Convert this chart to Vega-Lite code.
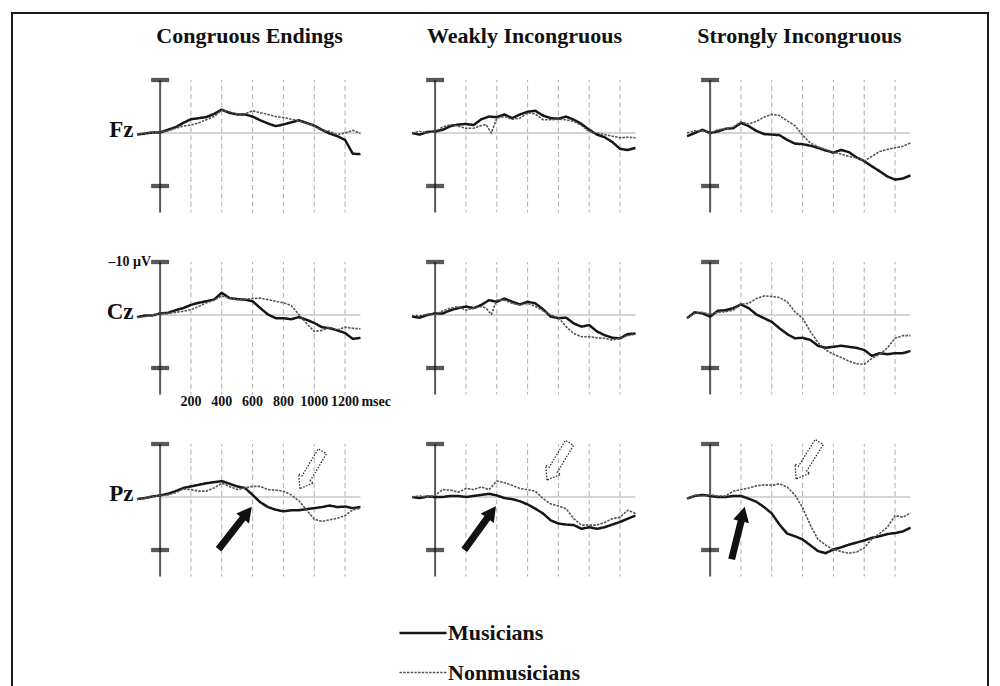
{
"$schema": "https://vega.github.io/schema/vega-lite/v6.json",
"width": 976,
"height": 690,
"autosize": "none",
"padding": {"left": 12, "top": 13, "right": 12, "bottom": 0},
"background": "white",
"config": {"view": {"stroke": "#1a1a1a", "strokeWidth": 2}, "font": "Liberation Serif"},
"datasets": {
"panels": [
{"cond":"C","elec":"Fz","ticks":[200,400,600,800,1000,1200]},
{"cond":"C","elec":"Cz","ticks":[200,400,600,800,1000,1200]},
{"cond":"C","elec":"Pz","ticks":[200,400,600,800,1000,1200]},
{"cond":"W","elec":"Fz","ticks":[200,400,600,800,1000,1200]},
{"cond":"W","elec":"Cz","ticks":[200,400,600,800,1000,1200]},
{"cond":"W","elec":"Pz","ticks":[200,400,600,800,1000,1200]},
{"cond":"S","elec":"Fz","ticks":[200,400,600,800,1000,1200]},
{"cond":"S","elec":"Cz","ticks":[200,400,600,800,1000,1200]},
{"cond":"S","elec":"Pz","ticks":[200,400,600,800,1000,1200]}
],
"arrows": [
{"cond":"C","elec":"Pz","kind":"solid","t":487,"uv":5.85,"dir":38},
{"cond":"C","elec":"Pz","kind":"hollow","t":980,"uv":-5.1,"dir":211},
{"cond":"W","elec":"Pz","kind":"solid","t":292,"uv":5.85,"dir":36},
{"cond":"W","elec":"Pz","kind":"hollow","t":799,"uv":-6.7,"dir":211},
{"cond":"S","elec":"Pz","kind":"solid","t":182,"uv":6.8,"dir":14},
{"cond":"S","elec":"Pz","kind":"hollow","t":633,"uv":-6.9,"dir":212}
],
"xlabels": [
{"cond":"C","elec":"Cz","t":200,"label":"200"},
{"cond":"C","elec":"Cz","t":400,"label":"400"},
{"cond":"C","elec":"Cz","t":600,"label":"600"},
{"cond":"C","elec":"Cz","t":800,"label":"800"},
{"cond":"C","elec":"Cz","t":1000,"label":"1000"},
{"cond":"C","elec":"Cz","t":1200,"label":"1200"}
],
"waves": [
{"cond":"C","elec":"Fz","grp":"Musicians","t":-150,"uv":0.3},
{"cond":"C","elec":"Fz","grp":"Musicians","t":-100,"uv":0.1},
{"cond":"C","elec":"Fz","grp":"Musicians","t":-50,"uv":-0.1},
{"cond":"C","elec":"Fz","grp":"Musicians","t":0,"uv":-0.1},
{"cond":"C","elec":"Fz","grp":"Musicians","t":50,"uv":-0.6},
{"cond":"C","elec":"Fz","grp":"Musicians","t":100,"uv":-1.1},
{"cond":"C","elec":"Fz","grp":"Musicians","t":150,"uv":-1.9},
{"cond":"C","elec":"Fz","grp":"Musicians","t":200,"uv":-2.6},
{"cond":"C","elec":"Fz","grp":"Musicians","t":250,"uv":-2.8},
{"cond":"C","elec":"Fz","grp":"Musicians","t":300,"uv":-3.0},
{"cond":"C","elec":"Fz","grp":"Musicians","t":350,"uv":-3.6},
{"cond":"C","elec":"Fz","grp":"Musicians","t":400,"uv":-4.4},
{"cond":"C","elec":"Fz","grp":"Musicians","t":450,"uv":-3.8},
{"cond":"C","elec":"Fz","grp":"Musicians","t":500,"uv":-3.5},
{"cond":"C","elec":"Fz","grp":"Musicians","t":550,"uv":-3.5},
{"cond":"C","elec":"Fz","grp":"Musicians","t":600,"uv":-3.1},
{"cond":"C","elec":"Fz","grp":"Musicians","t":650,"uv":-2.4},
{"cond":"C","elec":"Fz","grp":"Musicians","t":700,"uv":-1.8},
{"cond":"C","elec":"Fz","grp":"Musicians","t":750,"uv":-1.3},
{"cond":"C","elec":"Fz","grp":"Musicians","t":800,"uv":-1.6},
{"cond":"C","elec":"Fz","grp":"Musicians","t":850,"uv":-2.0},
{"cond":"C","elec":"Fz","grp":"Musicians","t":900,"uv":-2.4},
{"cond":"C","elec":"Fz","grp":"Musicians","t":950,"uv":-1.9},
{"cond":"C","elec":"Fz","grp":"Musicians","t":1000,"uv":-1.4},
{"cond":"C","elec":"Fz","grp":"Musicians","t":1050,"uv":-0.6},
{"cond":"C","elec":"Fz","grp":"Musicians","t":1100,"uv":0.1},
{"cond":"C","elec":"Fz","grp":"Musicians","t":1150,"uv":0.6},
{"cond":"C","elec":"Fz","grp":"Musicians","t":1200,"uv":1.3},
{"cond":"C","elec":"Fz","grp":"Musicians","t":1250,"uv":3.9},
{"cond":"C","elec":"Fz","grp":"Musicians","t":1300,"uv":4.0},
{"cond":"C","elec":"Fz","grp":"Nonmusicians","t":-150,"uv":0.3},
{"cond":"C","elec":"Fz","grp":"Nonmusicians","t":-100,"uv":0.0},
{"cond":"C","elec":"Fz","grp":"Nonmusicians","t":-50,"uv":-0.1},
{"cond":"C","elec":"Fz","grp":"Nonmusicians","t":0,"uv":-0.1},
{"cond":"C","elec":"Fz","grp":"Nonmusicians","t":50,"uv":-0.4},
{"cond":"C","elec":"Fz","grp":"Nonmusicians","t":100,"uv":-0.9},
{"cond":"C","elec":"Fz","grp":"Nonmusicians","t":150,"uv":-1.3},
{"cond":"C","elec":"Fz","grp":"Nonmusicians","t":200,"uv":-1.5},
{"cond":"C","elec":"Fz","grp":"Nonmusicians","t":250,"uv":-1.9},
{"cond":"C","elec":"Fz","grp":"Nonmusicians","t":300,"uv":-2.5},
{"cond":"C","elec":"Fz","grp":"Nonmusicians","t":350,"uv":-3.1},
{"cond":"C","elec":"Fz","grp":"Nonmusicians","t":400,"uv":-4.3},
{"cond":"C","elec":"Fz","grp":"Nonmusicians","t":450,"uv":-4.0},
{"cond":"C","elec":"Fz","grp":"Nonmusicians","t":500,"uv":-3.6},
{"cond":"C","elec":"Fz","grp":"Nonmusicians","t":550,"uv":-3.6},
{"cond":"C","elec":"Fz","grp":"Nonmusicians","t":600,"uv":-4.2},
{"cond":"C","elec":"Fz","grp":"Nonmusicians","t":650,"uv":-3.8},
{"cond":"C","elec":"Fz","grp":"Nonmusicians","t":700,"uv":-3.5},
{"cond":"C","elec":"Fz","grp":"Nonmusicians","t":750,"uv":-3.1},
{"cond":"C","elec":"Fz","grp":"Nonmusicians","t":800,"uv":-2.9},
{"cond":"C","elec":"Fz","grp":"Nonmusicians","t":850,"uv":-2.6},
{"cond":"C","elec":"Fz","grp":"Nonmusicians","t":900,"uv":-2.3},
{"cond":"C","elec":"Fz","grp":"Nonmusicians","t":950,"uv":-1.8},
{"cond":"C","elec":"Fz","grp":"Nonmusicians","t":1000,"uv":-1.3},
{"cond":"C","elec":"Fz","grp":"Nonmusicians","t":1050,"uv":-0.5},
{"cond":"C","elec":"Fz","grp":"Nonmusicians","t":1100,"uv":-0.3},
{"cond":"C","elec":"Fz","grp":"Nonmusicians","t":1150,"uv":0.3},
{"cond":"C","elec":"Fz","grp":"Nonmusicians","t":1200,"uv":0.0},
{"cond":"C","elec":"Fz","grp":"Nonmusicians","t":1250,"uv":-0.5},
{"cond":"C","elec":"Fz","grp":"Nonmusicians","t":1300,"uv":0.1},
{"cond":"W","elec":"Fz","grp":"Musicians","t":-150,"uv":0.0},
{"cond":"W","elec":"Fz","grp":"Musicians","t":-100,"uv":0.3},
{"cond":"W","elec":"Fz","grp":"Musicians","t":-50,"uv":-0.2},
{"cond":"W","elec":"Fz","grp":"Musicians","t":0,"uv":-0.3},
{"cond":"W","elec":"Fz","grp":"Musicians","t":50,"uv":-0.6},
{"cond":"W","elec":"Fz","grp":"Musicians","t":100,"uv":-1.3},
{"cond":"W","elec":"Fz","grp":"Musicians","t":150,"uv":-1.6},
{"cond":"W","elec":"Fz","grp":"Musicians","t":200,"uv":-1.7},
{"cond":"W","elec":"Fz","grp":"Musicians","t":250,"uv":-1.5},
{"cond":"W","elec":"Fz","grp":"Musicians","t":300,"uv":-2.6},
{"cond":"W","elec":"Fz","grp":"Musicians","t":350,"uv":-3.1},
{"cond":"W","elec":"Fz","grp":"Musicians","t":400,"uv":-3.0},
{"cond":"W","elec":"Fz","grp":"Musicians","t":450,"uv":-3.5},
{"cond":"W","elec":"Fz","grp":"Musicians","t":500,"uv":-2.8},
{"cond":"W","elec":"Fz","grp":"Musicians","t":550,"uv":-3.5},
{"cond":"W","elec":"Fz","grp":"Musicians","t":600,"uv":-4.0},
{"cond":"W","elec":"Fz","grp":"Musicians","t":650,"uv":-4.2},
{"cond":"W","elec":"Fz","grp":"Musicians","t":700,"uv":-3.3},
{"cond":"W","elec":"Fz","grp":"Musicians","t":750,"uv":-2.8},
{"cond":"W","elec":"Fz","grp":"Musicians","t":800,"uv":-2.7},
{"cond":"W","elec":"Fz","grp":"Musicians","t":850,"uv":-3.1},
{"cond":"W","elec":"Fz","grp":"Musicians","t":900,"uv":-2.5},
{"cond":"W","elec":"Fz","grp":"Musicians","t":950,"uv":-1.7},
{"cond":"W","elec":"Fz","grp":"Musicians","t":1000,"uv":-0.6},
{"cond":"W","elec":"Fz","grp":"Musicians","t":1050,"uv":0.3},
{"cond":"W","elec":"Fz","grp":"Musicians","t":1100,"uv":0.8},
{"cond":"W","elec":"Fz","grp":"Musicians","t":1150,"uv":1.7},
{"cond":"W","elec":"Fz","grp":"Musicians","t":1200,"uv":3.0},
{"cond":"W","elec":"Fz","grp":"Musicians","t":1250,"uv":3.2},
{"cond":"W","elec":"Fz","grp":"Musicians","t":1300,"uv":2.8},
{"cond":"W","elec":"Fz","grp":"Nonmusicians","t":-150,"uv":0.0},
{"cond":"W","elec":"Fz","grp":"Nonmusicians","t":-100,"uv":-0.3},
{"cond":"W","elec":"Fz","grp":"Nonmusicians","t":-50,"uv":0.0},
{"cond":"W","elec":"Fz","grp":"Nonmusicians","t":0,"uv":-0.3},
{"cond":"W","elec":"Fz","grp":"Nonmusicians","t":50,"uv":-1.1},
{"cond":"W","elec":"Fz","grp":"Nonmusicians","t":100,"uv":-1.6},
{"cond":"W","elec":"Fz","grp":"Nonmusicians","t":150,"uv":-1.3},
{"cond":"W","elec":"Fz","grp":"Nonmusicians","t":200,"uv":-0.9},
{"cond":"W","elec":"Fz","grp":"Nonmusicians","t":250,"uv":-0.9},
{"cond":"W","elec":"Fz","grp":"Nonmusicians","t":300,"uv":-1.4},
{"cond":"W","elec":"Fz","grp":"Nonmusicians","t":330,"uv":-1.6},
{"cond":"W","elec":"Fz","grp":"Nonmusicians","t":365,"uv":0.0},
{"cond":"W","elec":"Fz","grp":"Nonmusicians","t":400,"uv":-2.8},
{"cond":"W","elec":"Fz","grp":"Nonmusicians","t":450,"uv":-3.1},
{"cond":"W","elec":"Fz","grp":"Nonmusicians","t":500,"uv":-2.6},
{"cond":"W","elec":"Fz","grp":"Nonmusicians","t":550,"uv":-2.8},
{"cond":"W","elec":"Fz","grp":"Nonmusicians","t":600,"uv":-3.8},
{"cond":"W","elec":"Fz","grp":"Nonmusicians","t":650,"uv":-3.6},
{"cond":"W","elec":"Fz","grp":"Nonmusicians","t":700,"uv":-2.5},
{"cond":"W","elec":"Fz","grp":"Nonmusicians","t":750,"uv":-2.5},
{"cond":"W","elec":"Fz","grp":"Nonmusicians","t":800,"uv":-2.6},
{"cond":"W","elec":"Fz","grp":"Nonmusicians","t":850,"uv":-2.5},
{"cond":"W","elec":"Fz","grp":"Nonmusicians","t":900,"uv":-2.2},
{"cond":"W","elec":"Fz","grp":"Nonmusicians","t":950,"uv":-1.4},
{"cond":"W","elec":"Fz","grp":"Nonmusicians","t":1000,"uv":-0.3},
{"cond":"W","elec":"Fz","grp":"Nonmusicians","t":1050,"uv":0.0},
{"cond":"W","elec":"Fz","grp":"Nonmusicians","t":1100,"uv":0.3},
{"cond":"W","elec":"Fz","grp":"Nonmusicians","t":1150,"uv":0.6},
{"cond":"W","elec":"Fz","grp":"Nonmusicians","t":1200,"uv":0.9},
{"cond":"W","elec":"Fz","grp":"Nonmusicians","t":1250,"uv":0.8},
{"cond":"W","elec":"Fz","grp":"Nonmusicians","t":1300,"uv":0.9},
{"cond":"S","elec":"Fz","grp":"Musicians","t":-150,"uv":0.6},
{"cond":"S","elec":"Fz","grp":"Musicians","t":-100,"uv":0.0},
{"cond":"S","elec":"Fz","grp":"Musicians","t":-50,"uv":-0.6},
{"cond":"S","elec":"Fz","grp":"Musicians","t":0,"uv":0.0},
{"cond":"S","elec":"Fz","grp":"Musicians","t":50,"uv":-0.3},
{"cond":"S","elec":"Fz","grp":"Musicians","t":100,"uv":-0.8},
{"cond":"S","elec":"Fz","grp":"Musicians","t":150,"uv":-0.9},
{"cond":"S","elec":"Fz","grp":"Musicians","t":200,"uv":-1.9},
{"cond":"S","elec":"Fz","grp":"Musicians","t":250,"uv":-1.3},
{"cond":"S","elec":"Fz","grp":"Musicians","t":300,"uv":-0.4},
{"cond":"S","elec":"Fz","grp":"Musicians","t":350,"uv":0.2},
{"cond":"S","elec":"Fz","grp":"Musicians","t":400,"uv":0.3},
{"cond":"S","elec":"Fz","grp":"Musicians","t":450,"uv":0.4},
{"cond":"S","elec":"Fz","grp":"Musicians","t":500,"uv":1.3},
{"cond":"S","elec":"Fz","grp":"Musicians","t":550,"uv":2.0},
{"cond":"S","elec":"Fz","grp":"Musicians","t":600,"uv":2.1},
{"cond":"S","elec":"Fz","grp":"Musicians","t":650,"uv":2.4},
{"cond":"S","elec":"Fz","grp":"Musicians","t":700,"uv":2.8},
{"cond":"S","elec":"Fz","grp":"Musicians","t":750,"uv":3.3},
{"cond":"S","elec":"Fz","grp":"Musicians","t":800,"uv":3.7},
{"cond":"S","elec":"Fz","grp":"Musicians","t":850,"uv":3.2},
{"cond":"S","elec":"Fz","grp":"Musicians","t":900,"uv":3.6},
{"cond":"S","elec":"Fz","grp":"Musicians","t":950,"uv":4.6},
{"cond":"S","elec":"Fz","grp":"Musicians","t":1000,"uv":5.3},
{"cond":"S","elec":"Fz","grp":"Musicians","t":1050,"uv":6.3},
{"cond":"S","elec":"Fz","grp":"Musicians","t":1100,"uv":7.2},
{"cond":"S","elec":"Fz","grp":"Musicians","t":1150,"uv":8.2},
{"cond":"S","elec":"Fz","grp":"Musicians","t":1200,"uv":8.8},
{"cond":"S","elec":"Fz","grp":"Musicians","t":1250,"uv":8.6},
{"cond":"S","elec":"Fz","grp":"Musicians","t":1300,"uv":8.0},
{"cond":"S","elec":"Fz","grp":"Nonmusicians","t":-150,"uv":0.0},
{"cond":"S","elec":"Fz","grp":"Nonmusicians","t":-100,"uv":-0.4},
{"cond":"S","elec":"Fz","grp":"Nonmusicians","t":-50,"uv":-0.4},
{"cond":"S","elec":"Fz","grp":"Nonmusicians","t":0,"uv":0.0},
{"cond":"S","elec":"Fz","grp":"Nonmusicians","t":50,"uv":-0.6},
{"cond":"S","elec":"Fz","grp":"Nonmusicians","t":100,"uv":-0.8},
{"cond":"S","elec":"Fz","grp":"Nonmusicians","t":150,"uv":-1.1},
{"cond":"S","elec":"Fz","grp":"Nonmusicians","t":200,"uv":-2.1},
{"cond":"S","elec":"Fz","grp":"Nonmusicians","t":250,"uv":-1.7},
{"cond":"S","elec":"Fz","grp":"Nonmusicians","t":300,"uv":-2.2},
{"cond":"S","elec":"Fz","grp":"Nonmusicians","t":350,"uv":-3.0},
{"cond":"S","elec":"Fz","grp":"Nonmusicians","t":400,"uv":-3.5},
{"cond":"S","elec":"Fz","grp":"Nonmusicians","t":450,"uv":-3.3},
{"cond":"S","elec":"Fz","grp":"Nonmusicians","t":500,"uv":-2.3},
{"cond":"S","elec":"Fz","grp":"Nonmusicians","t":550,"uv":-1.4},
{"cond":"S","elec":"Fz","grp":"Nonmusicians","t":600,"uv":0.4},
{"cond":"S","elec":"Fz","grp":"Nonmusicians","t":650,"uv":1.9},
{"cond":"S","elec":"Fz","grp":"Nonmusicians","t":700,"uv":2.6},
{"cond":"S","elec":"Fz","grp":"Nonmusicians","t":750,"uv":3.1},
{"cond":"S","elec":"Fz","grp":"Nonmusicians","t":800,"uv":3.6},
{"cond":"S","elec":"Fz","grp":"Nonmusicians","t":850,"uv":4.0},
{"cond":"S","elec":"Fz","grp":"Nonmusicians","t":900,"uv":4.4},
{"cond":"S","elec":"Fz","grp":"Nonmusicians","t":950,"uv":4.7},
{"cond":"S","elec":"Fz","grp":"Nonmusicians","t":1000,"uv":5.3},
{"cond":"S","elec":"Fz","grp":"Nonmusicians","t":1050,"uv":4.4},
{"cond":"S","elec":"Fz","grp":"Nonmusicians","t":1100,"uv":3.5},
{"cond":"S","elec":"Fz","grp":"Nonmusicians","t":1150,"uv":3.1},
{"cond":"S","elec":"Fz","grp":"Nonmusicians","t":1200,"uv":2.8},
{"cond":"S","elec":"Fz","grp":"Nonmusicians","t":1250,"uv":2.5},
{"cond":"S","elec":"Fz","grp":"Nonmusicians","t":1300,"uv":1.9},
{"cond":"C","elec":"Cz","grp":"Musicians","t":-150,"uv":0.4},
{"cond":"C","elec":"Cz","grp":"Musicians","t":-100,"uv":0.1},
{"cond":"C","elec":"Cz","grp":"Musicians","t":-50,"uv":0.1},
{"cond":"C","elec":"Cz","grp":"Musicians","t":0,"uv":-0.3},
{"cond":"C","elec":"Cz","grp":"Musicians","t":50,"uv":-0.4},
{"cond":"C","elec":"Cz","grp":"Musicians","t":100,"uv":-0.9},
{"cond":"C","elec":"Cz","grp":"Musicians","t":150,"uv":-1.3},
{"cond":"C","elec":"Cz","grp":"Musicians","t":200,"uv":-1.9},
{"cond":"C","elec":"Cz","grp":"Musicians","t":250,"uv":-2.3},
{"cond":"C","elec":"Cz","grp":"Musicians","t":300,"uv":-2.6},
{"cond":"C","elec":"Cz","grp":"Musicians","t":350,"uv":-2.9},
{"cond":"C","elec":"Cz","grp":"Musicians","t":400,"uv":-4.2},
{"cond":"C","elec":"Cz","grp":"Musicians","t":450,"uv":-3.2},
{"cond":"C","elec":"Cz","grp":"Musicians","t":500,"uv":-3.0},
{"cond":"C","elec":"Cz","grp":"Musicians","t":550,"uv":-2.9},
{"cond":"C","elec":"Cz","grp":"Musicians","t":600,"uv":-2.6},
{"cond":"C","elec":"Cz","grp":"Musicians","t":650,"uv":-1.3},
{"cond":"C","elec":"Cz","grp":"Musicians","t":700,"uv":-0.1},
{"cond":"C","elec":"Cz","grp":"Musicians","t":750,"uv":0.6},
{"cond":"C","elec":"Cz","grp":"Musicians","t":800,"uv":0.6},
{"cond":"C","elec":"Cz","grp":"Musicians","t":850,"uv":0.8},
{"cond":"C","elec":"Cz","grp":"Musicians","t":900,"uv":0.4},
{"cond":"C","elec":"Cz","grp":"Musicians","t":950,"uv":0.9},
{"cond":"C","elec":"Cz","grp":"Musicians","t":1000,"uv":1.5},
{"cond":"C","elec":"Cz","grp":"Musicians","t":1050,"uv":2.3},
{"cond":"C","elec":"Cz","grp":"Musicians","t":1100,"uv":2.5},
{"cond":"C","elec":"Cz","grp":"Musicians","t":1150,"uv":2.9},
{"cond":"C","elec":"Cz","grp":"Musicians","t":1200,"uv":3.4},
{"cond":"C","elec":"Cz","grp":"Musicians","t":1250,"uv":4.5},
{"cond":"C","elec":"Cz","grp":"Musicians","t":1300,"uv":4.3},
{"cond":"C","elec":"Cz","grp":"Nonmusicians","t":-150,"uv":0.4},
{"cond":"C","elec":"Cz","grp":"Nonmusicians","t":-100,"uv":0.3},
{"cond":"C","elec":"Cz","grp":"Nonmusicians","t":-50,"uv":0.1},
{"cond":"C","elec":"Cz","grp":"Nonmusicians","t":0,"uv":-0.3},
{"cond":"C","elec":"Cz","grp":"Nonmusicians","t":50,"uv":-0.3},
{"cond":"C","elec":"Cz","grp":"Nonmusicians","t":100,"uv":-0.5},
{"cond":"C","elec":"Cz","grp":"Nonmusicians","t":150,"uv":-0.7},
{"cond":"C","elec":"Cz","grp":"Nonmusicians","t":200,"uv":-1.0},
{"cond":"C","elec":"Cz","grp":"Nonmusicians","t":250,"uv":-1.6},
{"cond":"C","elec":"Cz","grp":"Nonmusicians","t":300,"uv":-2.3},
{"cond":"C","elec":"Cz","grp":"Nonmusicians","t":350,"uv":-2.8},
{"cond":"C","elec":"Cz","grp":"Nonmusicians","t":400,"uv":-3.6},
{"cond":"C","elec":"Cz","grp":"Nonmusicians","t":450,"uv":-3.2},
{"cond":"C","elec":"Cz","grp":"Nonmusicians","t":500,"uv":-2.9},
{"cond":"C","elec":"Cz","grp":"Nonmusicians","t":550,"uv":-3.0},
{"cond":"C","elec":"Cz","grp":"Nonmusicians","t":600,"uv":-3.1},
{"cond":"C","elec":"Cz","grp":"Nonmusicians","t":650,"uv":-3.2},
{"cond":"C","elec":"Cz","grp":"Nonmusicians","t":700,"uv":-2.9},
{"cond":"C","elec":"Cz","grp":"Nonmusicians","t":750,"uv":-2.6},
{"cond":"C","elec":"Cz","grp":"Nonmusicians","t":800,"uv":-2.3},
{"cond":"C","elec":"Cz","grp":"Nonmusicians","t":850,"uv":-1.8},
{"cond":"C","elec":"Cz","grp":"Nonmusicians","t":900,"uv":-0.1},
{"cond":"C","elec":"Cz","grp":"Nonmusicians","t":950,"uv":1.6},
{"cond":"C","elec":"Cz","grp":"Nonmusicians","t":1000,"uv":3.1},
{"cond":"C","elec":"Cz","grp":"Nonmusicians","t":1050,"uv":2.9},
{"cond":"C","elec":"Cz","grp":"Nonmusicians","t":1100,"uv":2.3},
{"cond":"C","elec":"Cz","grp":"Nonmusicians","t":1150,"uv":2.8},
{"cond":"C","elec":"Cz","grp":"Nonmusicians","t":1200,"uv":2.3},
{"cond":"C","elec":"Cz","grp":"Nonmusicians","t":1250,"uv":2.5},
{"cond":"C","elec":"Cz","grp":"Nonmusicians","t":1300,"uv":2.6},
{"cond":"W","elec":"Cz","grp":"Musicians","t":-150,"uv":0.3},
{"cond":"W","elec":"Cz","grp":"Musicians","t":-100,"uv":0.5},
{"cond":"W","elec":"Cz","grp":"Musicians","t":-50,"uv":0.0},
{"cond":"W","elec":"Cz","grp":"Musicians","t":0,"uv":-0.3},
{"cond":"W","elec":"Cz","grp":"Musicians","t":50,"uv":-0.3},
{"cond":"W","elec":"Cz","grp":"Musicians","t":100,"uv":-0.9},
{"cond":"W","elec":"Cz","grp":"Musicians","t":150,"uv":-1.3},
{"cond":"W","elec":"Cz","grp":"Musicians","t":200,"uv":-1.6},
{"cond":"W","elec":"Cz","grp":"Musicians","t":250,"uv":-1.3},
{"cond":"W","elec":"Cz","grp":"Musicians","t":300,"uv":-1.9},
{"cond":"W","elec":"Cz","grp":"Musicians","t":350,"uv":-2.8},
{"cond":"W","elec":"Cz","grp":"Musicians","t":400,"uv":-2.5},
{"cond":"W","elec":"Cz","grp":"Musicians","t":450,"uv":-3.1},
{"cond":"W","elec":"Cz","grp":"Musicians","t":500,"uv":-2.5},
{"cond":"W","elec":"Cz","grp":"Musicians","t":550,"uv":-2.0},
{"cond":"W","elec":"Cz","grp":"Musicians","t":600,"uv":-2.5},
{"cond":"W","elec":"Cz","grp":"Musicians","t":650,"uv":-2.2},
{"cond":"W","elec":"Cz","grp":"Musicians","t":700,"uv":-1.1},
{"cond":"W","elec":"Cz","grp":"Musicians","t":750,"uv":0.3},
{"cond":"W","elec":"Cz","grp":"Musicians","t":800,"uv":0.6},
{"cond":"W","elec":"Cz","grp":"Musicians","t":850,"uv":0.5},
{"cond":"W","elec":"Cz","grp":"Musicians","t":900,"uv":1.6},
{"cond":"W","elec":"Cz","grp":"Musicians","t":950,"uv":2.2},
{"cond":"W","elec":"Cz","grp":"Musicians","t":1000,"uv":1.9},
{"cond":"W","elec":"Cz","grp":"Musicians","t":1050,"uv":3.1},
{"cond":"W","elec":"Cz","grp":"Musicians","t":1100,"uv":3.8},
{"cond":"W","elec":"Cz","grp":"Musicians","t":1150,"uv":4.3},
{"cond":"W","elec":"Cz","grp":"Musicians","t":1200,"uv":4.4},
{"cond":"W","elec":"Cz","grp":"Musicians","t":1250,"uv":3.6},
{"cond":"W","elec":"Cz","grp":"Musicians","t":1300,"uv":3.5},
{"cond":"W","elec":"Cz","grp":"Nonmusicians","t":-150,"uv":0.1},
{"cond":"W","elec":"Cz","grp":"Nonmusicians","t":-100,"uv":0.1},
{"cond":"W","elec":"Cz","grp":"Nonmusicians","t":-50,"uv":-0.1},
{"cond":"W","elec":"Cz","grp":"Nonmusicians","t":0,"uv":-0.1},
{"cond":"W","elec":"Cz","grp":"Nonmusicians","t":50,"uv":-0.8},
{"cond":"W","elec":"Cz","grp":"Nonmusicians","t":100,"uv":-1.3},
{"cond":"W","elec":"Cz","grp":"Nonmusicians","t":150,"uv":-1.6},
{"cond":"W","elec":"Cz","grp":"Nonmusicians","t":200,"uv":-0.9},
{"cond":"W","elec":"Cz","grp":"Nonmusicians","t":250,"uv":-1.3},
{"cond":"W","elec":"Cz","grp":"Nonmusicians","t":300,"uv":-1.6},
{"cond":"W","elec":"Cz","grp":"Nonmusicians","t":330,"uv":-1.3},
{"cond":"W","elec":"Cz","grp":"Nonmusicians","t":365,"uv":-0.1},
{"cond":"W","elec":"Cz","grp":"Nonmusicians","t":400,"uv":-2.8},
{"cond":"W","elec":"Cz","grp":"Nonmusicians","t":450,"uv":-2.8},
{"cond":"W","elec":"Cz","grp":"Nonmusicians","t":500,"uv":-2.2},
{"cond":"W","elec":"Cz","grp":"Nonmusicians","t":550,"uv":-1.9},
{"cond":"W","elec":"Cz","grp":"Nonmusicians","t":600,"uv":-2.2},
{"cond":"W","elec":"Cz","grp":"Nonmusicians","t":650,"uv":-1.6},
{"cond":"W","elec":"Cz","grp":"Nonmusicians","t":700,"uv":-0.8},
{"cond":"W","elec":"Cz","grp":"Nonmusicians","t":750,"uv":0.0},
{"cond":"W","elec":"Cz","grp":"Nonmusicians","t":800,"uv":0.5},
{"cond":"W","elec":"Cz","grp":"Nonmusicians","t":850,"uv":2.2},
{"cond":"W","elec":"Cz","grp":"Nonmusicians","t":900,"uv":3.5},
{"cond":"W","elec":"Cz","grp":"Nonmusicians","t":950,"uv":4.1},
{"cond":"W","elec":"Cz","grp":"Nonmusicians","t":1000,"uv":4.1},
{"cond":"W","elec":"Cz","grp":"Nonmusicians","t":1050,"uv":4.3},
{"cond":"W","elec":"Cz","grp":"Nonmusicians","t":1100,"uv":4.4},
{"cond":"W","elec":"Cz","grp":"Nonmusicians","t":1150,"uv":4.7},
{"cond":"W","elec":"Cz","grp":"Nonmusicians","t":1200,"uv":4.4},
{"cond":"W","elec":"Cz","grp":"Nonmusicians","t":1250,"uv":3.9},
{"cond":"W","elec":"Cz","grp":"Nonmusicians","t":1300,"uv":3.6},
{"cond":"S","elec":"Cz","grp":"Musicians","t":-150,"uv":0.6},
{"cond":"S","elec":"Cz","grp":"Musicians","t":-100,"uv":-0.5},
{"cond":"S","elec":"Cz","grp":"Musicians","t":-50,"uv":-0.3},
{"cond":"S","elec":"Cz","grp":"Musicians","t":0,"uv":0.3},
{"cond":"S","elec":"Cz","grp":"Musicians","t":50,"uv":-0.8},
{"cond":"S","elec":"Cz","grp":"Musicians","t":100,"uv":-0.9},
{"cond":"S","elec":"Cz","grp":"Musicians","t":150,"uv":-1.3},
{"cond":"S","elec":"Cz","grp":"Musicians","t":200,"uv":-2.0},
{"cond":"S","elec":"Cz","grp":"Musicians","t":250,"uv":-1.3},
{"cond":"S","elec":"Cz","grp":"Musicians","t":300,"uv":-0.1},
{"cond":"S","elec":"Cz","grp":"Musicians","t":350,"uv":0.6},
{"cond":"S","elec":"Cz","grp":"Musicians","t":400,"uv":1.3},
{"cond":"S","elec":"Cz","grp":"Musicians","t":450,"uv":2.5},
{"cond":"S","elec":"Cz","grp":"Musicians","t":500,"uv":3.6},
{"cond":"S","elec":"Cz","grp":"Musicians","t":550,"uv":4.4},
{"cond":"S","elec":"Cz","grp":"Musicians","t":600,"uv":4.3},
{"cond":"S","elec":"Cz","grp":"Musicians","t":650,"uv":4.7},
{"cond":"S","elec":"Cz","grp":"Musicians","t":700,"uv":5.8},
{"cond":"S","elec":"Cz","grp":"Musicians","t":750,"uv":6.2},
{"cond":"S","elec":"Cz","grp":"Musicians","t":800,"uv":6.0},
{"cond":"S","elec":"Cz","grp":"Musicians","t":850,"uv":5.8},
{"cond":"S","elec":"Cz","grp":"Musicians","t":900,"uv":6.0},
{"cond":"S","elec":"Cz","grp":"Musicians","t":950,"uv":6.2},
{"cond":"S","elec":"Cz","grp":"Musicians","t":1000,"uv":6.6},
{"cond":"S","elec":"Cz","grp":"Musicians","t":1050,"uv":7.7},
{"cond":"S","elec":"Cz","grp":"Musicians","t":1100,"uv":7.2},
{"cond":"S","elec":"Cz","grp":"Musicians","t":1150,"uv":7.4},
{"cond":"S","elec":"Cz","grp":"Musicians","t":1200,"uv":7.2},
{"cond":"S","elec":"Cz","grp":"Musicians","t":1250,"uv":7.2},
{"cond":"S","elec":"Cz","grp":"Musicians","t":1300,"uv":6.8},
{"cond":"S","elec":"Cz","grp":"Nonmusicians","t":-150,"uv":0.6},
{"cond":"S","elec":"Cz","grp":"Nonmusicians","t":-100,"uv":-0.3},
{"cond":"S","elec":"Cz","grp":"Nonmusicians","t":-50,"uv":-0.5},
{"cond":"S","elec":"Cz","grp":"Nonmusicians","t":0,"uv":-0.1},
{"cond":"S","elec":"Cz","grp":"Nonmusicians","t":50,"uv":-0.5},
{"cond":"S","elec":"Cz","grp":"Nonmusicians","t":100,"uv":-0.6},
{"cond":"S","elec":"Cz","grp":"Nonmusicians","t":150,"uv":-0.9},
{"cond":"S","elec":"Cz","grp":"Nonmusicians","t":200,"uv":-2.0},
{"cond":"S","elec":"Cz","grp":"Nonmusicians","t":250,"uv":-2.2},
{"cond":"S","elec":"Cz","grp":"Nonmusicians","t":300,"uv":-3.1},
{"cond":"S","elec":"Cz","grp":"Nonmusicians","t":350,"uv":-3.6},
{"cond":"S","elec":"Cz","grp":"Nonmusicians","t":400,"uv":-3.5},
{"cond":"S","elec":"Cz","grp":"Nonmusicians","t":450,"uv":-3.3},
{"cond":"S","elec":"Cz","grp":"Nonmusicians","t":500,"uv":-2.5},
{"cond":"S","elec":"Cz","grp":"Nonmusicians","t":550,"uv":-0.6},
{"cond":"S","elec":"Cz","grp":"Nonmusicians","t":600,"uv":0.6},
{"cond":"S","elec":"Cz","grp":"Nonmusicians","t":650,"uv":3.1},
{"cond":"S","elec":"Cz","grp":"Nonmusicians","t":700,"uv":5.2},
{"cond":"S","elec":"Cz","grp":"Nonmusicians","t":750,"uv":6.6},
{"cond":"S","elec":"Cz","grp":"Nonmusicians","t":800,"uv":7.4},
{"cond":"S","elec":"Cz","grp":"Nonmusicians","t":850,"uv":8.0},
{"cond":"S","elec":"Cz","grp":"Nonmusicians","t":900,"uv":8.7},
{"cond":"S","elec":"Cz","grp":"Nonmusicians","t":950,"uv":9.2},
{"cond":"S","elec":"Cz","grp":"Nonmusicians","t":1000,"uv":9.3},
{"cond":"S","elec":"Cz","grp":"Nonmusicians","t":1050,"uv":8.2},
{"cond":"S","elec":"Cz","grp":"Nonmusicians","t":1100,"uv":7.4},
{"cond":"S","elec":"Cz","grp":"Nonmusicians","t":1150,"uv":6.2},
{"cond":"S","elec":"Cz","grp":"Nonmusicians","t":1200,"uv":4.4},
{"cond":"S","elec":"Cz","grp":"Nonmusicians","t":1250,"uv":3.9},
{"cond":"S","elec":"Cz","grp":"Nonmusicians","t":1300,"uv":3.9},
{"cond":"C","elec":"Pz","grp":"Musicians","t":-150,"uv":0.4},
{"cond":"C","elec":"Pz","grp":"Musicians","t":-100,"uv":0.2},
{"cond":"C","elec":"Pz","grp":"Musicians","t":-50,"uv":-0.1},
{"cond":"C","elec":"Pz","grp":"Musicians","t":0,"uv":-0.3},
{"cond":"C","elec":"Pz","grp":"Musicians","t":50,"uv":-0.6},
{"cond":"C","elec":"Pz","grp":"Musicians","t":100,"uv":-1.1},
{"cond":"C","elec":"Pz","grp":"Musicians","t":150,"uv":-1.7},
{"cond":"C","elec":"Pz","grp":"Musicians","t":200,"uv":-2.0},
{"cond":"C","elec":"Pz","grp":"Musicians","t":250,"uv":-2.3},
{"cond":"C","elec":"Pz","grp":"Musicians","t":300,"uv":-2.6},
{"cond":"C","elec":"Pz","grp":"Musicians","t":350,"uv":-2.8},
{"cond":"C","elec":"Pz","grp":"Musicians","t":400,"uv":-3.0},
{"cond":"C","elec":"Pz","grp":"Musicians","t":450,"uv":-2.5},
{"cond":"C","elec":"Pz","grp":"Musicians","t":500,"uv":-2.0},
{"cond":"C","elec":"Pz","grp":"Musicians","t":550,"uv":-1.7},
{"cond":"C","elec":"Pz","grp":"Musicians","t":600,"uv":-0.4},
{"cond":"C","elec":"Pz","grp":"Musicians","t":650,"uv":1.0},
{"cond":"C","elec":"Pz","grp":"Musicians","t":700,"uv":1.9},
{"cond":"C","elec":"Pz","grp":"Musicians","t":750,"uv":2.4},
{"cond":"C","elec":"Pz","grp":"Musicians","t":800,"uv":2.7},
{"cond":"C","elec":"Pz","grp":"Musicians","t":850,"uv":2.5},
{"cond":"C","elec":"Pz","grp":"Musicians","t":900,"uv":2.5},
{"cond":"C","elec":"Pz","grp":"Musicians","t":950,"uv":2.3},
{"cond":"C","elec":"Pz","grp":"Musicians","t":1000,"uv":2.1},
{"cond":"C","elec":"Pz","grp":"Musicians","t":1050,"uv":1.9},
{"cond":"C","elec":"Pz","grp":"Musicians","t":1100,"uv":1.6},
{"cond":"C","elec":"Pz","grp":"Musicians","t":1150,"uv":1.9},
{"cond":"C","elec":"Pz","grp":"Musicians","t":1200,"uv":1.8},
{"cond":"C","elec":"Pz","grp":"Musicians","t":1250,"uv":2.1},
{"cond":"C","elec":"Pz","grp":"Musicians","t":1300,"uv":1.9},
{"cond":"C","elec":"Pz","grp":"Nonmusicians","t":-150,"uv":0.4},
{"cond":"C","elec":"Pz","grp":"Nonmusicians","t":-100,"uv":0.2},
{"cond":"C","elec":"Pz","grp":"Nonmusicians","t":-50,"uv":-0.1},
{"cond":"C","elec":"Pz","grp":"Nonmusicians","t":0,"uv":-0.3},
{"cond":"C","elec":"Pz","grp":"Nonmusicians","t":50,"uv":-0.4},
{"cond":"C","elec":"Pz","grp":"Nonmusicians","t":100,"uv":-0.8},
{"cond":"C","elec":"Pz","grp":"Nonmusicians","t":150,"uv":-1.5},
{"cond":"C","elec":"Pz","grp":"Nonmusicians","t":200,"uv":-1.4},
{"cond":"C","elec":"Pz","grp":"Nonmusicians","t":250,"uv":-1.1},
{"cond":"C","elec":"Pz","grp":"Nonmusicians","t":300,"uv":-1.1},
{"cond":"C","elec":"Pz","grp":"Nonmusicians","t":350,"uv":-1.7},
{"cond":"C","elec":"Pz","grp":"Nonmusicians","t":400,"uv":-2.6},
{"cond":"C","elec":"Pz","grp":"Nonmusicians","t":450,"uv":-2.0},
{"cond":"C","elec":"Pz","grp":"Nonmusicians","t":500,"uv":-1.4},
{"cond":"C","elec":"Pz","grp":"Nonmusicians","t":550,"uv":-1.7},
{"cond":"C","elec":"Pz","grp":"Nonmusicians","t":600,"uv":-2.0},
{"cond":"C","elec":"Pz","grp":"Nonmusicians","t":650,"uv":-2.0},
{"cond":"C","elec":"Pz","grp":"Nonmusicians","t":700,"uv":-1.4},
{"cond":"C","elec":"Pz","grp":"Nonmusicians","t":750,"uv":-1.3},
{"cond":"C","elec":"Pz","grp":"Nonmusicians","t":800,"uv":-1.1},
{"cond":"C","elec":"Pz","grp":"Nonmusicians","t":850,"uv":-0.4},
{"cond":"C","elec":"Pz","grp":"Nonmusicians","t":900,"uv":0.7},
{"cond":"C","elec":"Pz","grp":"Nonmusicians","t":950,"uv":2.4},
{"cond":"C","elec":"Pz","grp":"Nonmusicians","t":1000,"uv":4.2},
{"cond":"C","elec":"Pz","grp":"Nonmusicians","t":1050,"uv":4.6},
{"cond":"C","elec":"Pz","grp":"Nonmusicians","t":1100,"uv":4.3},
{"cond":"C","elec":"Pz","grp":"Nonmusicians","t":1150,"uv":4.0},
{"cond":"C","elec":"Pz","grp":"Nonmusicians","t":1200,"uv":3.5},
{"cond":"C","elec":"Pz","grp":"Nonmusicians","t":1250,"uv":2.4},
{"cond":"C","elec":"Pz","grp":"Nonmusicians","t":1300,"uv":2.1},
{"cond":"W","elec":"Pz","grp":"Musicians","t":-150,"uv":0.0},
{"cond":"W","elec":"Pz","grp":"Musicians","t":-100,"uv":0.2},
{"cond":"W","elec":"Pz","grp":"Musicians","t":-50,"uv":-0.1},
{"cond":"W","elec":"Pz","grp":"Musicians","t":0,"uv":0.0},
{"cond":"W","elec":"Pz","grp":"Musicians","t":50,"uv":0.0},
{"cond":"W","elec":"Pz","grp":"Musicians","t":100,"uv":-0.2},
{"cond":"W","elec":"Pz","grp":"Musicians","t":150,"uv":-0.2},
{"cond":"W","elec":"Pz","grp":"Musicians","t":200,"uv":0.0},
{"cond":"W","elec":"Pz","grp":"Musicians","t":250,"uv":-0.2},
{"cond":"W","elec":"Pz","grp":"Musicians","t":300,"uv":-0.4},
{"cond":"W","elec":"Pz","grp":"Musicians","t":350,"uv":-0.6},
{"cond":"W","elec":"Pz","grp":"Musicians","t":400,"uv":-0.3},
{"cond":"W","elec":"Pz","grp":"Musicians","t":450,"uv":0.2},
{"cond":"W","elec":"Pz","grp":"Musicians","t":500,"uv":0.4},
{"cond":"W","elec":"Pz","grp":"Musicians","t":550,"uv":0.8},
{"cond":"W","elec":"Pz","grp":"Musicians","t":600,"uv":1.4},
{"cond":"W","elec":"Pz","grp":"Musicians","t":650,"uv":2.2},
{"cond":"W","elec":"Pz","grp":"Musicians","t":700,"uv":3.1},
{"cond":"W","elec":"Pz","grp":"Musicians","t":750,"uv":4.4},
{"cond":"W","elec":"Pz","grp":"Musicians","t":800,"uv":5.0},
{"cond":"W","elec":"Pz","grp":"Musicians","t":850,"uv":5.2},
{"cond":"W","elec":"Pz","grp":"Musicians","t":900,"uv":5.3},
{"cond":"W","elec":"Pz","grp":"Musicians","t":950,"uv":6.0},
{"cond":"W","elec":"Pz","grp":"Musicians","t":1000,"uv":5.7},
{"cond":"W","elec":"Pz","grp":"Musicians","t":1050,"uv":6.0},
{"cond":"W","elec":"Pz","grp":"Musicians","t":1100,"uv":5.7},
{"cond":"W","elec":"Pz","grp":"Musicians","t":1150,"uv":5.2},
{"cond":"W","elec":"Pz","grp":"Musicians","t":1200,"uv":4.7},
{"cond":"W","elec":"Pz","grp":"Musicians","t":1250,"uv":4.1},
{"cond":"W","elec":"Pz","grp":"Musicians","t":1300,"uv":3.5},
{"cond":"W","elec":"Pz","grp":"Nonmusicians","t":-150,"uv":0.0},
{"cond":"W","elec":"Pz","grp":"Nonmusicians","t":-100,"uv":-0.2},
{"cond":"W","elec":"Pz","grp":"Nonmusicians","t":-50,"uv":0.0},
{"cond":"W","elec":"Pz","grp":"Nonmusicians","t":0,"uv":-0.3},
{"cond":"W","elec":"Pz","grp":"Nonmusicians","t":50,"uv":-1.4},
{"cond":"W","elec":"Pz","grp":"Nonmusicians","t":100,"uv":-1.3},
{"cond":"W","elec":"Pz","grp":"Nonmusicians","t":150,"uv":-0.9},
{"cond":"W","elec":"Pz","grp":"Nonmusicians","t":200,"uv":-1.6},
{"cond":"W","elec":"Pz","grp":"Nonmusicians","t":250,"uv":-1.4},
{"cond":"W","elec":"Pz","grp":"Nonmusicians","t":300,"uv":-1.9},
{"cond":"W","elec":"Pz","grp":"Nonmusicians","t":350,"uv":-1.4},
{"cond":"W","elec":"Pz","grp":"Nonmusicians","t":400,"uv":-3.0},
{"cond":"W","elec":"Pz","grp":"Nonmusicians","t":450,"uv":-2.7},
{"cond":"W","elec":"Pz","grp":"Nonmusicians","t":500,"uv":-2.2},
{"cond":"W","elec":"Pz","grp":"Nonmusicians","t":550,"uv":-1.6},
{"cond":"W","elec":"Pz","grp":"Nonmusicians","t":600,"uv":-1.4},
{"cond":"W","elec":"Pz","grp":"Nonmusicians","t":650,"uv":-1.1},
{"cond":"W","elec":"Pz","grp":"Nonmusicians","t":700,"uv":0.3},
{"cond":"W","elec":"Pz","grp":"Nonmusicians","t":750,"uv":1.3},
{"cond":"W","elec":"Pz","grp":"Nonmusicians","t":800,"uv":1.7},
{"cond":"W","elec":"Pz","grp":"Nonmusicians","t":850,"uv":2.2},
{"cond":"W","elec":"Pz","grp":"Nonmusicians","t":900,"uv":4.1},
{"cond":"W","elec":"Pz","grp":"Nonmusicians","t":950,"uv":5.3},
{"cond":"W","elec":"Pz","grp":"Nonmusicians","t":1000,"uv":5.3},
{"cond":"W","elec":"Pz","grp":"Nonmusicians","t":1050,"uv":5.3},
{"cond":"W","elec":"Pz","grp":"Nonmusicians","t":1100,"uv":4.8},
{"cond":"W","elec":"Pz","grp":"Nonmusicians","t":1150,"uv":4.1},
{"cond":"W","elec":"Pz","grp":"Nonmusicians","t":1200,"uv":3.8},
{"cond":"W","elec":"Pz","grp":"Nonmusicians","t":1250,"uv":2.5},
{"cond":"W","elec":"Pz","grp":"Nonmusicians","t":1300,"uv":3.1},
{"cond":"S","elec":"Pz","grp":"Musicians","t":-150,"uv":0.3},
{"cond":"S","elec":"Pz","grp":"Musicians","t":-100,"uv":-0.2},
{"cond":"S","elec":"Pz","grp":"Musicians","t":-50,"uv":-0.4},
{"cond":"S","elec":"Pz","grp":"Musicians","t":0,"uv":-0.2},
{"cond":"S","elec":"Pz","grp":"Musicians","t":50,"uv":0.0},
{"cond":"S","elec":"Pz","grp":"Musicians","t":100,"uv":0.0},
{"cond":"S","elec":"Pz","grp":"Musicians","t":150,"uv":-0.2},
{"cond":"S","elec":"Pz","grp":"Musicians","t":200,"uv":-0.2},
{"cond":"S","elec":"Pz","grp":"Musicians","t":250,"uv":0.3},
{"cond":"S","elec":"Pz","grp":"Musicians","t":300,"uv":0.9},
{"cond":"S","elec":"Pz","grp":"Musicians","t":350,"uv":1.9},
{"cond":"S","elec":"Pz","grp":"Musicians","t":400,"uv":3.1},
{"cond":"S","elec":"Pz","grp":"Musicians","t":450,"uv":5.2},
{"cond":"S","elec":"Pz","grp":"Musicians","t":500,"uv":6.9},
{"cond":"S","elec":"Pz","grp":"Musicians","t":550,"uv":7.4},
{"cond":"S","elec":"Pz","grp":"Musicians","t":600,"uv":8.0},
{"cond":"S","elec":"Pz","grp":"Musicians","t":650,"uv":9.1},
{"cond":"S","elec":"Pz","grp":"Musicians","t":700,"uv":10.2},
{"cond":"S","elec":"Pz","grp":"Musicians","t":750,"uv":10.6},
{"cond":"S","elec":"Pz","grp":"Musicians","t":800,"uv":9.9},
{"cond":"S","elec":"Pz","grp":"Musicians","t":850,"uv":9.5},
{"cond":"S","elec":"Pz","grp":"Musicians","t":900,"uv":9.0},
{"cond":"S","elec":"Pz","grp":"Musicians","t":950,"uv":8.6},
{"cond":"S","elec":"Pz","grp":"Musicians","t":1000,"uv":8.2},
{"cond":"S","elec":"Pz","grp":"Musicians","t":1050,"uv":7.7},
{"cond":"S","elec":"Pz","grp":"Musicians","t":1100,"uv":7.4},
{"cond":"S","elec":"Pz","grp":"Musicians","t":1150,"uv":7.0},
{"cond":"S","elec":"Pz","grp":"Musicians","t":1200,"uv":6.8},
{"cond":"S","elec":"Pz","grp":"Musicians","t":1250,"uv":6.5},
{"cond":"S","elec":"Pz","grp":"Musicians","t":1300,"uv":5.8},
{"cond":"S","elec":"Pz","grp":"Nonmusicians","t":-150,"uv":0.3},
{"cond":"S","elec":"Pz","grp":"Nonmusicians","t":-100,"uv":-0.3},
{"cond":"S","elec":"Pz","grp":"Nonmusicians","t":-50,"uv":-0.2},
{"cond":"S","elec":"Pz","grp":"Nonmusicians","t":0,"uv":-0.4},
{"cond":"S","elec":"Pz","grp":"Nonmusicians","t":50,"uv":-0.2},
{"cond":"S","elec":"Pz","grp":"Nonmusicians","t":100,"uv":-0.2},
{"cond":"S","elec":"Pz","grp":"Nonmusicians","t":150,"uv":-1.1},
{"cond":"S","elec":"Pz","grp":"Nonmusicians","t":200,"uv":-1.4},
{"cond":"S","elec":"Pz","grp":"Nonmusicians","t":250,"uv":-1.7},
{"cond":"S","elec":"Pz","grp":"Nonmusicians","t":300,"uv":-2.1},
{"cond":"S","elec":"Pz","grp":"Nonmusicians","t":350,"uv":-2.3},
{"cond":"S","elec":"Pz","grp":"Nonmusicians","t":400,"uv":-2.2},
{"cond":"S","elec":"Pz","grp":"Nonmusicians","t":450,"uv":-2.5},
{"cond":"S","elec":"Pz","grp":"Nonmusicians","t":500,"uv":-1.9},
{"cond":"S","elec":"Pz","grp":"Nonmusicians","t":550,"uv":-0.4},
{"cond":"S","elec":"Pz","grp":"Nonmusicians","t":600,"uv":2.0},
{"cond":"S","elec":"Pz","grp":"Nonmusicians","t":650,"uv":5.3},
{"cond":"S","elec":"Pz","grp":"Nonmusicians","t":700,"uv":8.0},
{"cond":"S","elec":"Pz","grp":"Nonmusicians","t":750,"uv":9.1},
{"cond":"S","elec":"Pz","grp":"Nonmusicians","t":800,"uv":9.9},
{"cond":"S","elec":"Pz","grp":"Nonmusicians","t":850,"uv":10.3},
{"cond":"S","elec":"Pz","grp":"Nonmusicians","t":900,"uv":10.6},
{"cond":"S","elec":"Pz","grp":"Nonmusicians","t":950,"uv":10.4},
{"cond":"S","elec":"Pz","grp":"Nonmusicians","t":1000,"uv":9.6},
{"cond":"S","elec":"Pz","grp":"Nonmusicians","t":1050,"uv":7.9},
{"cond":"S","elec":"Pz","grp":"Nonmusicians","t":1100,"uv":6.9},
{"cond":"S","elec":"Pz","grp":"Nonmusicians","t":1150,"uv":5.7},
{"cond":"S","elec":"Pz","grp":"Nonmusicians","t":1200,"uv":3.5},
{"cond":"S","elec":"Pz","grp":"Nonmusicians","t":1250,"uv":3.8},
{"cond":"S","elec":"Pz","grp":"Nonmusicians","t":1300,"uv":3.0}
]
},
"encoding": {
"x": {"field": "cond", "type": "nominal",
  "scale": {"type": "band", "domain": ["C","W","S"], "paddingInner": 0.18182, "paddingOuter": 0.365455, "align": 0.62189, "round": false},
  "axis": {"orient": "top", "offset": -34, "domain": false, "ticks": false, "grid": false, "labelAngle": 0, "labelPadding": 0, "labelLimit": 0,
    "labelExpr": "datum.value == 'C' ? 'Congruous Endings' : datum.value == 'W' ? 'Weakly Incongruous' : 'Strongly Incongruous'",
    "labelFont": "Liberation Serif", "labelFontWeight": "bold", "labelFontSize": 22, "labelColor": "#111", "title": null}},
"y": {"field": "elec", "type": "nominal",
  "scale": {"type": "band", "domain": ["Fz","Cz","Pz"], "paddingInner": 0, "paddingOuter": 0.3956, "align": 0.2014, "round": false},
  "axis": {"orient": "left", "offset": -121, "domain": false, "ticks": false, "grid": false, "labelAngle": 0, "labelPadding": 0, "labelOffset": -3,
    "labelFont": "Liberation Serif", "labelFontWeight": "bold", "labelFontSize": 23, "labelColor": "#111", "title": null}}
},
"layer": [
{
 "data": {"name": "panels"},
 "transform": [{"flatten": ["ticks"], "as": ["t"]}],
 "mark": {"type": "tick", "orient": "vertical", "filled": false, "thickness": 0, "size": 132.5, "color": "#8c8c8c", "strokeWidth": 1, "strokeDash": [2.5, 5.78]},
 "encoding": {
   "xOffset": {"field": "t", "type": "quantitative", "scale": {"domain": [-150, 1310], "nice": false, "zero": false}},
   "yOffset": {"datum": 2.5, "type": "quantitative", "scale": {"domain": [-17.17, 17.17], "nice": false, "zero": false}}}
},
{
 "data": {"name": "panels"},
 "mark": {"type": "tick", "orient": "horizontal", "thickness": 1, "size": 200.3, "color": "#8a8a8a"},
 "encoding": {
   "xOffset": {"datum": 650, "type": "quantitative", "scale": {"domain": [-150, 1310], "nice": false, "zero": false}},
   "yOffset": {"datum": 0, "type": "quantitative", "scale": {"domain": [-17.17, 17.17], "nice": false, "zero": false}}}
},
{
 "data": {"name": "panels"},
 "mark": {"type": "tick", "orient": "vertical", "thickness": 2, "size": 132.5, "color": "#111"},
 "encoding": {
   "xOffset": {"datum": 0, "type": "quantitative", "scale": {"domain": [-150, 1310], "nice": false, "zero": false}},
   "yOffset": {"datum": 2.5, "type": "quantitative", "scale": {"domain": [-17.17, 17.17], "nice": false, "zero": false}}}
},
{
 "data": {"name": "panels"},
 "mark": {"type": "tick", "orient": "horizontal", "thickness": 4.3, "size": 18, "color": "#111"},
 "encoding": {
   "xOffset": {"datum": 0, "type": "quantitative", "scale": {"domain": [-150, 1310], "nice": false, "zero": false}},
   "yOffset": {"datum": -10, "type": "quantitative", "scale": {"domain": [-17.17, 17.17], "nice": false, "zero": false}}}
},
{
 "data": {"name": "panels"},
 "mark": {"type": "tick", "orient": "horizontal", "thickness": 4.3, "size": 18, "color": "#111"},
 "encoding": {
   "xOffset": {"datum": 0, "type": "quantitative", "scale": {"domain": [-150, 1310], "nice": false, "zero": false}},
   "yOffset": {"datum": 10, "type": "quantitative", "scale": {"domain": [-17.17, 17.17], "nice": false, "zero": false}}}
},
{
 "data": {"name": "waves"},
 "mark": {"type": "line", "strokeJoin": "round"},
 "encoding": {
   "xOffset": {"field": "t", "type": "quantitative", "scale": {"domain": [-150, 1310], "nice": false, "zero": false}},
   "yOffset": {"field": "uv", "type": "quantitative", "scale": {"domain": [-17.17, 17.17], "nice": false, "zero": false}},
   "detail": [{"field": "cond"}, {"field": "elec"}],
   "order": {"field": "t", "type": "quantitative"},
   "color": {"field": "grp", "type": "nominal", "scale": {"domain": ["Musicians","Nonmusicians"], "range": ["#161616", "#555555"]},
     "legend": {"orient": "none", "legendX": 386, "legendY": 595, "title": null, "symbolType": "stroke", "symbolSize": 2209, "padding": 0, "rowPadding": 4, "labelOffset": 0,
       "labelFont": "Liberation Serif", "labelFontWeight": "bold", "labelFontSize": 22, "labelColor": "#111"}},
   "strokeDash": {"field": "grp", "type": "nominal", "scale": {"domain": ["Musicians","Nonmusicians"], "range": [[1,0],[2.5,1.2]]}},
   "strokeWidth": {"field": "grp", "type": "nominal", "scale": {"domain": ["Musicians","Nonmusicians"], "range": [2.5, 1.6]}}
 }
},
{
 "data": {"name": "arrows"},
 "transform": [{"filter": "datum.kind == 'solid'"}],
 "mark": {"type": "point", "shape": "M0,-1L0.3,-0.45L0.13,-0.45L0.13,1L-0.13,1L-0.13,-0.45L-0.3,-0.45Z", "filled": true, "color": "#111", "opacity": 1, "size": 2916},
 "encoding": {
   "xOffset": {"field": "t", "type": "quantitative", "scale": {"domain": [-150, 1310], "nice": false, "zero": false}},
   "yOffset": {"field": "uv", "type": "quantitative", "scale": {"domain": [-17.17, 17.17], "nice": false, "zero": false}},
   "angle": {"field": "dir", "type": "quantitative", "scale": null}}
},
{
 "data": {"name": "arrows"},
 "transform": [{"filter": "datum.kind == 'hollow'"}],
 "mark": {"type": "point", "shape": "M0,-1L0.4,-0.45L0.22,-0.45L0.22,1L-0.22,1L-0.22,-0.45L-0.4,-0.45Z", "filled": false, "color": "#222", "opacity": 1, "size": 1892, "strokeWidth": 1.2, "strokeDash": [1.5, 1.5]},
 "encoding": {
   "xOffset": {"field": "t", "type": "quantitative", "scale": {"domain": [-150, 1310], "nice": false, "zero": false}},
   "yOffset": {"field": "uv", "type": "quantitative", "scale": {"domain": [-17.17, 17.17], "nice": false, "zero": false}},
   "angle": {"field": "dir", "type": "quantitative", "scale": null}}
},
{
 "data": {"name": "xlabels"},
 "mark": {"type": "text", "align": "center", "baseline": "middle", "dy": 7, "font": "Liberation Serif", "fontWeight": "bold", "fontSize": 14, "color": "#111"},
 "encoding": {
   "xOffset": {"field": "t", "type": "quantitative", "scale": {"domain": [-150, 1310], "nice": false, "zero": false}},
   "yOffset": {"datum": 15, "type": "quantitative", "scale": {"domain": [-17.17, 17.17], "nice": false, "zero": false}},
   "text": {"field": "label"}}
},
{
 "data": {"values": [{"cond": "C", "elec": "Cz", "t": 1300, "label": "msec"}]},
 "mark": {"type": "text", "align": "left", "baseline": "middle", "dy": 7, "dx": 1, "font": "Liberation Serif", "fontWeight": "bold", "fontSize": 14, "color": "#111"},
 "encoding": {
   "xOffset": {"field": "t", "type": "quantitative", "scale": {"domain": [-150, 1310], "nice": false, "zero": false}},
   "yOffset": {"datum": 15, "type": "quantitative", "scale": {"domain": [-17.17, 17.17], "nice": false, "zero": false}},
   "text": {"field": "label"}}
},
{
 "data": {"values": [{"cond": "C", "elec": "Cz", "label": "–10 µV"}]},
 "mark": {"type": "text", "align": "right", "baseline": "middle", "dx": -9, "font": "Liberation Serif", "fontWeight": "bold", "fontSize": 14, "color": "#111"},
 "encoding": {
   "xOffset": {"datum": 0, "type": "quantitative", "scale": {"domain": [-150, 1310], "nice": false, "zero": false}},
   "yOffset": {"datum": -10, "type": "quantitative", "scale": {"domain": [-17.17, 17.17], "nice": false, "zero": false}},
   "text": {"field": "label"}}
}
]
}
